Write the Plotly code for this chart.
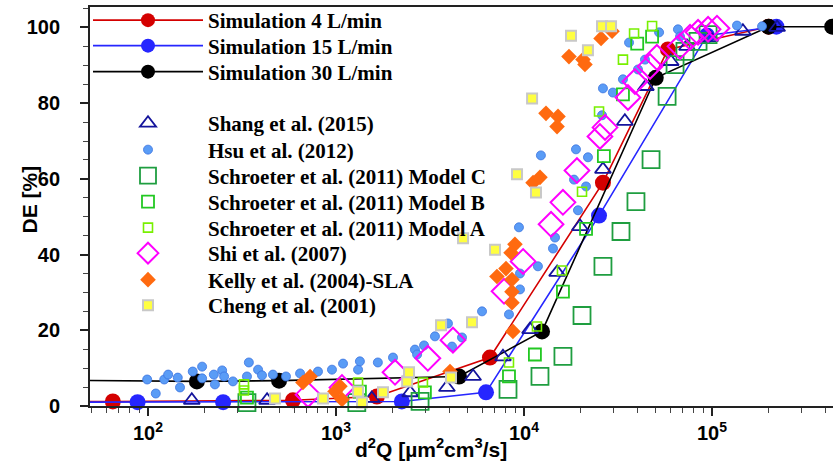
import plotly.graph_objects as go

# ---------------- data ----------------
sim4_x = [30, 65, 590, 1650, 6590, 26300, 58300, 200000]
sim4_y = [1.2, 1.2, 1.5, 2.5, 12.8, 59.0, 94.2, 100.2]
sim15_x = [30, 88, 251, 2240, 6280, 25060, 94000, 220000]
sim15_y = [1.0, 1.0, 1.0, 1.2, 3.6, 50.3, 97.9, 100.2]
sim30_x = [30, 182, 498, 4510, 12470, 50200, 200000, 436000]
sim30_y = [6.8, 6.5, 6.7, 7.8, 19.7, 86.7, 100.2, 100.2]

shang_x = [171, 430, 1550, 2480, 3890, 5360, 7730, 10770, 15000, 19860, 26300,
           34400, 44500, 60300, 73600, 97600, 146000, 222000]
shang_y = [1.5, 1.5, 2.0, 3.5, 4.9, 7.8, 13.0, 20.2, 35.3, 47.4, 62.5,
           75.2, 84.4, 91.0, 95.0, 97.3, 99.0, 100.0]

hsu_x = [99, 110, 122, 128, 144, 148, 173, 194, 194, 224, 227, 248, 254, 283, 336,
         344, 385, 404, 462, 542, 644, 802, 952, 1090, 1310, 1340, 1670, 2010, 2630,
         2700, 2940, 3360, 3940, 4140, 4680, 5980, 8320, 9400, 9520, 9520, 11860,
         12300, 14260, 14620, 18450, 18900, 19370, 21380, 21890, 26000, 26300, 29700,
         33600, 36200, 40400, 44000, 52300, 65900, 67600, 135800, 184600]
hsu_y = [7.0, 3.3, 7.0, 8.3, 7.5, 4.9, 9.1, 10.4, 7.3, 8.3, 5.7, 9.4, 7.8, 6.5, 7.8,
         11.5, 9.6, 8.1, 8.3, 7.8, 8.6, 9.1, 9.6, 11.2, 9.6, 11.8, 11.5, 12.8, 14.9,
         13.6, 16.0, 18.4, 21.8, 15.7, 18.1, 25.0, 24.2, 47.2, 35.0, 30.8, 36.9,
         66.2, 41.6, 44.5, 59.8, 67.8, 51.7, 58.0, 65.7, 76.8, 83.9, 82.8,
         86.3, 96.0, 88.9, 91.5, 98.7, 99.5, 97.6, 100.5, 100.3]

schC_x = [336, 1290, 2800, 8220, 12160, 16110, 20350, 26300, 32800, 39400, 47400,
          57700, 63600, 71800, 84300, 95300]
schC_y = [0.9, 0.9, 1.2, 4.4, 7.8, 13.1, 23.9, 36.9, 46.1, 54.0, 65.1,
          81.8, 90.2, 93.7, 96.3, 98.1]

schB_x = [336, 1340, 2970, 8320, 11430, 16110, 21380, 26600, 33600, 40000, 48000]
schB_y = [2.2, 3.8, 3.6, 7.8, 13.6, 30.2, 46.8, 66.0, 82.3, 95.7, 97.6]

schA_x = [324, 324, 1310, 2900, 8320, 11720, 15920, 20350, 25070, 33600, 38500, 48000]
schA_y = [5.7, 4.1, 6.2, 6.2, 11.5, 21.0, 35.8, 56.6, 77.8, 91.5, 98.4, 100.4]

shi_x = [710, 1076, 2060, 3080, 4190, 7830, 9890, 13930, 16110, 19130, 25350, 26980,
         35730, 38900, 46800, 50900, 67600, 76400, 84300, 95300, 106300]
shi_y = [3.0, 4.9, 8.9, 12.6, 17.4, 30.3, 38.2, 48.0, 53.8, 62.2, 71.2, 73.6,
         81.5, 85.7, 89.7, 92.1, 95.0, 97.4, 98.7, 99.5, 99.8]

kelly_x = [667, 728, 988, 1050, 1076, 4040, 7180, 8020, 8630, 8630, 8630, 8730, 8950,
           8530, 11170, 12160, 13090, 15170, 14990, 17350, 20590, 21100, 25700, 29400]
kelly_y = [6.2, 7.8, 3.8, 5.2, 1.7, 9.1, 34.2, 36.3, 33.4, 30.2, 27.3, 19.7, 42.7,
           40.5, 59.0, 60.4, 77.3, 76.5, 73.8, 92.3, 91.5, 90.2, 97.1, 99.0]

cheng_x = [474, 853, 1310, 1375, 1778, 2390, 2446, 4090, 3620, 5290, 4740, 7010, 9180,
           11580, 11040, 17780, 21880, 26000, 29040]
cheng_y = [2.0, 2.0, 3.8, 0.9, 3.6, 6.5, 8.9, 7.5, 21.3, 22.1, 44.3, 41.3, 61.2,
           56.4, 81.2, 97.8, 94.0, 100.3, 100.3]

x_tickvals = [100, 1000, 10000, 100000]
x_ticktext = ["10<sup>2</sup>", "10<sup>3</sup>", "10<sup>4</sup>", "10<sup>5</sup>"]
x_minor = [50, 60, 70, 80, 90,
           200, 300, 400, 500, 600, 700, 800, 900,
           2000, 3000, 4000, 5000, 6000, 7000, 8000, 9000,
           20000, 30000, 40000, 50000, 60000, 70000, 80000, 90000,
           200000, 300000, 400000]
y_tickvals = [0, 20, 40, 60, 80, 100]

# ---------------- layout constants ----------------
W, H = 833, 467
M_L, M_R, M_T, M_B = 90, 0, 7, 61
PLOT_H = H - M_T - M_B
# vertical pixel centre of each legend row (one legend per entry)
legend_rows_px = [20, 46, 72, 123.5, 150, 176, 202, 228, 253.5, 280, 305.5]
LEGEND_LEFT_PX = 88
ROW_OFFSET = 20.5

legend_font = dict(family="Liberation Serif", size=21, color="black", weight="bold")
tick_font = dict(family="Liberation Sans", size=20, color="black", weight="bold")

fig = go.Figure()
_counter = [0]


def next_legend():
    _counter[0] += 1
    return "legend" if _counter[0] == 1 else "legend%d" % _counter[0]


def sim(name, x, y, color):
    sizes = [0] + [16] * (len(x) - 1)  # first point lies left of the visible range
    fig.add_trace(go.Scatter(
        x=x, y=y, name=name, mode="lines+markers",
        line=dict(color=color, width=1.6),
        marker=dict(color=color, size=sizes, opacity=1, line=dict(width=0)),
        cliponaxis=False, legend=next_legend()))


def pts(name, x, y, marker):
    fig.add_trace(go.Scatter(x=x, y=y, name=name, mode="markers",
                             marker=marker, cliponaxis=False, legend=next_legend()))


sim("Simulation 4 L/min", sim4_x, sim4_y, "#d40000")
sim("Simulation 15 L/min", sim15_x, sim15_y, "#2626ff")
sim("Simulation 30 L/min", sim30_x, sim30_y, "#000000")

pts("Shang et al. (2015)", shang_x, shang_y,
    dict(symbol="triangle-up-open", size=14, color="#14149c", line=dict(width=1.8)))
pts("Hsu et al. (2012)", hsu_x, hsu_y,
    dict(symbol="circle", size=9, color="#5a9cf6", line=dict(width=0.8, color="#3a72e0")))
pts("Schroeter et al. (2011) Model C", schC_x, schC_y,
    dict(symbol="square-open", size=17, color="#1f9e40", line=dict(width=1.8)))
pts("Schroeter et al. (2011) Model B", schB_x, schB_y,
    dict(symbol="square-open", size=12, color="#22c822", line=dict(width=1.8)))
pts("Schroeter et al. (2011) Model A", schA_x, schA_y,
    dict(symbol="square-open", size=9, color="#78f000", line=dict(width=1.6)))
pts("Shi et al. (2007)", shi_x, shi_y,
    dict(symbol="diamond-open", size=19, color="#ff00ff", line=dict(width=2)))
pts("Kelly et al. (2004)-SLA", kelly_x, kelly_y,
    dict(symbol="diamond", size=12, color="#ff6a10", line=dict(width=0)))
pts("Cheng et al. (2001)", cheng_x, cheng_y,
    dict(symbol="square", size=10, color="#ffff40", line=dict(width=2, color="#c8c8c8")))

legends = {}
for i, c in enumerate(legend_rows_px):
    key = "legend" if i == 0 else "legend%d" % (i + 1)
    top_px = c - ROW_OFFSET
    legends[key] = dict(
        x=(LEGEND_LEFT_PX - M_L) / (W - M_L - M_R),
        y=(H - M_B - top_px) / PLOT_H,
        xanchor="left", yanchor="top", bgcolor="rgba(0,0,0,0)",
        font=legend_font, itemwidth=110, itemsizing="trace")

fig.update_layout(
    width=W, height=H,
    margin=dict(l=M_L, r=M_R, t=M_T, b=M_B),
    plot_bgcolor="white", paper_bgcolor="white",
    showlegend=True,
    xaxis=dict(type="log", range=[1.6915, 5.6436],
               tickmode="array", tickvals=x_tickvals, ticktext=x_ticktext,
               ticks="outside", ticklen=8, tickwidth=1.5, tickcolor="#222",
               minor=dict(tickmode="array", tickvals=x_minor, ticks="outside",
                          ticklen=5, tickwidth=1, tickcolor="#444"),
               showline=True, linecolor="#222", linewidth=1.8, mirror=True,
               showgrid=False, zeroline=False, tickfont=tick_font),
    yaxis=dict(range=[0, 105.4], tickmode="array", tickvals=y_tickvals,
               ticks="outside", ticklen=8, tickwidth=1.5, tickcolor="#222",
               ticklabelstandoff=16,
               minor=dict(dtick=5, ticks="outside", ticklen=5, tickwidth=1,
                          tickcolor="#444"),
               showline=True, linecolor="#222", linewidth=1.8,
               showgrid=False, zeroline=False, tickfont=tick_font),
    annotations=[
        dict(text="DE [%]", xref="paper", yref="paper", x=-0.081, y=0.517,
             textangle=-90, showarrow=False, xanchor="center", yanchor="middle",
             font=dict(family="Liberation Sans", size=21, color="black", weight="bold")),
        dict(text="d<sup>2</sup>Q [µm<sup>2</sup>cm<sup>3</sup>/s]", xref="paper",
             yref="paper", x=0.459, y=-0.106, showarrow=False,
             xanchor="center", yanchor="middle",
             font=dict(family="Liberation Sans", size=21, color="black", weight="bold")),
    ],
    **legends,
)

fig.write_html("out.html")
